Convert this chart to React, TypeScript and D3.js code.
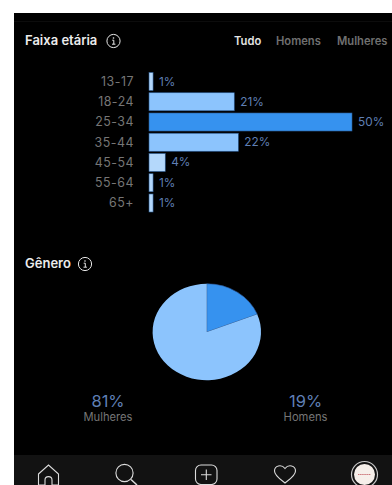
import React, { useMemo } from "react";
import * as d3 from "d3";

const ageGroups = ["13-17", "18-24", "25-34", "35-44", "45-54", "55-64", "65+"];
const agePercents = [1, 21, 50, 22, 4, 1, 1];
const ageFills = ["#b4d8fb", "#8cc4fd", "#3692ef", "#8cc4fd", "#b4d8fb", "#b4d8fb", "#b4d8fb"];
const filterTabs = ["Tudo", "Homens", "Mulheres"];
const genderLabels = ["Homens", "Mulheres"];
const genderPercents = [19, 81];
const genderFills = ["#3692ef", "#8cc4fd"];

const SANS = "Inter, 'Liberation Sans', sans-serif";
const LABEL = "#767676";
const VALUE = "#5f7fb4";

function InfoIcon({ x, y }: { x: number; y: number }) {
  return (
    <g transform={`translate(${x},${y})`}>
      <circle r={6.6} fill="none" stroke="#e6e6e6" strokeWidth={1} />
      <circle cx={0} cy={-3} r={0.8} fill="#e6e6e6" />
      <path d="M-1.3,-0.8H0.3V3M-1.5,3.2H1.9" fill="none" stroke="#e6e6e6" strokeWidth={1} />
    </g>
  );
}

export default function App() {
  const x = useMemo(() => d3.scaleLinear().domain([0, 50]).range([149, 352]), []);
  const y = useMemo(
    () => d3.scaleBand().domain(ageGroups).range([72.5, 212]).paddingInner(0.11).paddingOuter(0),
    []
  );
  const slices = useMemo(() => d3.pie<number>().sort(null)(genderPercents), []);
  const arc = useMemo(
    () => d3.arc<d3.PieArcDatum<number>>().innerRadius(0).outerRadius(1),
    []
  );

  return (
    <svg
      width={392}
      height={485}
      style={{ position: "fixed", left: 0, top: 0, background: "#fff" }}
      fontFamily={SANS}
    >
      <rect x={14} y={13} width={378} height={472} fill="#000" />
      <line x1={14} x2={392} y1={21.5} y2={21.5} stroke="#0c0c0c" />

      <text x={25} y={45} fill="#ececec" fontSize={13} fontWeight={600}>Faixa etária</text>
      <InfoIcon x={113.5} y={41} />
      {filterTabs.map((t, i) => (
        <text
          key={t}
          x={[234, 276, 337][i]}
          y={45}
          fill={i === 0 ? "#e4e4e4" : "#707070"}
          fontSize={11.2}
          fontWeight={600}
        >
          {t}
        </text>
      ))}

      {ageGroups.map((g, i) => {
        const by = y(g)!;
        const h = y.bandwidth();
        return (
          <g key={g}>
            <text
              x={134}
              y={by + h / 2 + 4.3}
              textAnchor="end"
              fill={LABEL}
              fontSize={12.4}
              letterSpacing={0.5}
            >
              {g}
            </text>
            <rect
              x={x(0)}
              y={by}
              width={x(agePercents[i]) - x(0)}
              height={h}
              fill={ageFills[i]}
              stroke="#2a5a92"
              strokeWidth={0.6}
            />
            <text
              x={x(agePercents[i]) + 6}
              y={by + h / 2 + 4}
              fill={VALUE}
              fontSize={11.8}
            >
              {agePercents[i]}%
            </text>
          </g>
        );
      })}

      <text x={25} y={268} fill="#ececec" fontSize={13} fontWeight={600}>Gênero</text>
      <InfoIcon x={85} y={264} />

      <g transform="translate(206.8,332) scale(54.2,48.2)">
        {slices.map((s, i) => (
          <path
            key={genderLabels[i]}
            d={arc(s) ?? ""}
            fill={genderFills[i]}
            stroke="#2f5da0"
            strokeWidth={i === 0 ? 0.012 : 0}
          />
        ))}
      </g>

      {[1, 0].map((i, k) => (
        <g key={genderLabels[i]} textAnchor="middle">
          <text x={[108, 305.5][k]} y={407} fill={VALUE} fontSize={16.5}>{genderPercents[i]}%</text>
          <text x={[108, 305.5][k]} y={421} fill={LABEL} fontSize={11.2}>{genderLabels[i]}</text>
        </g>
      ))}

      <rect x={14} y={455} width={378} height={30} fill="#121212" />
      <g fill="none" stroke="#dcdcdc" strokeWidth={1.1}>
        <path d="M38.5,474L48.5,465L58.5,474V485H52V480C52,475.5 45,475.5 45,480V485H38.5Z" />
        <circle cx={124.5} cy={473} r={8.6} />
        <path d="M131,479.5L137,485" strokeWidth={1.5} />
        <rect x={195.5} y={465} width={21.5} height={19.5} rx={5.5} />
        <path d="M206.3,469.5V480M201,474.8H211.5" />
        <path d="M285,483C280,479 274.5,475.5 274.5,471C274.5,465.5 281.5,464 285,468.5C288.5,464 295.5,465.5 295.5,471C295.5,475.5 290,479 285,483Z" />
      </g>
      <circle cx={364.5} cy={474.5} r={13} fill="none" stroke="#c8c8c8" strokeWidth={1.2} />
      <circle cx={364.5} cy={474.5} r={10.5} fill="#f6efea" />
      <path d="M358,474.5H371" stroke="#c0545a" strokeWidth={0.8} strokeDasharray="1.5 0.6" />
    </svg>
  );
}
